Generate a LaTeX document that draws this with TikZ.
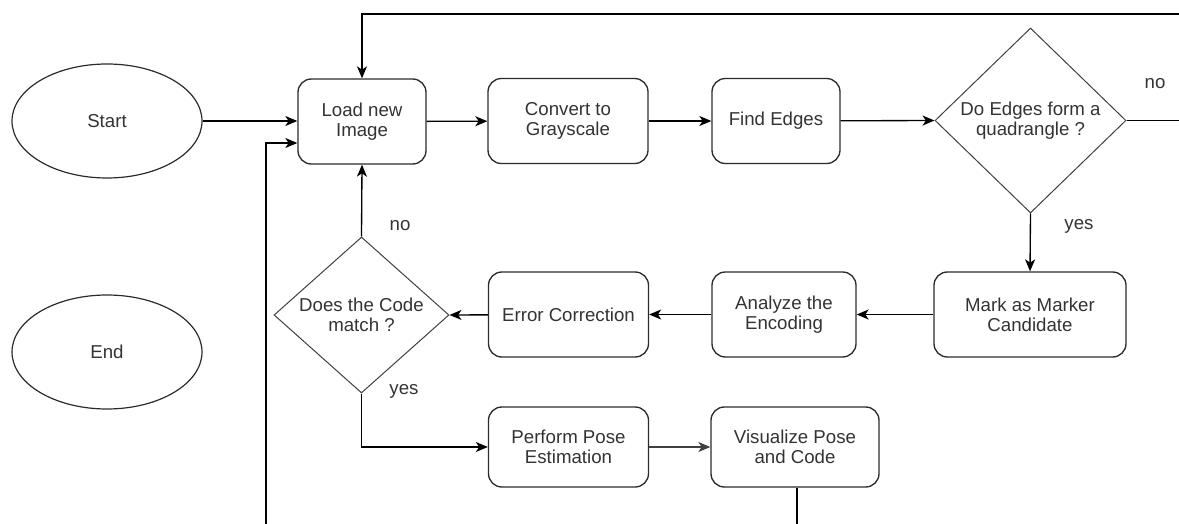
\documentclass[tikz,border=0pt]{standalone}
\usepackage{fontspec}
\setmainfont{Liberation Sans}
\usetikzlibrary{shapes.geometric,arrows.meta}
\definecolor{txt}{HTML}{333333}
\definecolor{edge}{HTML}{2B2B2B}
\tikzset{
  every node/.style={font=\fontsize{14pt}{15pt}\selectfont, text=txt},
  proc/.style={draw=edge, line width=1pt, rounded corners=10pt, align=center,
    minimum height=63.75pt, inner sep=0pt},
  decide/.style={draw=edge!90, line width=0.75pt, diamond, align=center,
    inner sep=0pt},
  term/.style={draw=edge, line width=0.9pt, ellipse, minimum width=142.5pt,
    minimum height=85.5pt},
  flow/.style={draw=black, line width=1pt, -{Stealth[length=9pt,width=7.5pt,inset=2.5pt]}},
  link/.style={draw=black, line width=1pt},
  lbl/.style={inner sep=0pt}
}
\begin{document}
\begin{tikzpicture}[x=0.75pt,y=-0.75pt]
\useasboundingbox (0,0) rectangle (1179,524);

% terminals
\node[term] (start) at (107,121) {Start};
\node[term] (end) at (107,352) {End};

% first row
\node[proc, minimum width=96pt] (load) at (362,121.5) {Load new\\Image};
\node[proc, minimum width=120pt] (gray) at (568,121) {Convert to\\Grayscale};
\node[proc, minimum width=96pt] (edges) at (776,121) {Find Edges};
\node[decide, minimum width=143.25pt, minimum height=138.75pt] (quad) at (1030.5,120.5)
  {Do Edges form a\\quadrangle ?};

% second row
\node[proc, minimum width=144pt] (mark) at (1030,314.5) {Mark as Marker\\Candidate};
\node[proc, minimum width=108pt] (enc) at (784,314.5) {Analyze the\\Encoding};
\node[proc, minimum width=120pt] (err) at (568.5,314.5) {Error Correction};
\node[decide, shape aspect=1.12, minimum width=131.25pt, minimum height=117pt] (match) at (361.5,315)
  {Does the Code\\match ?};

% third row
\node[proc, minimum width=120pt, minimum height=60pt] (pose) at (568.5,447) {Perform Pose\\Estimation};
\node[proc, minimum width=126pt, minimum height=60pt] (vis) at (795,447) {Visualize Pose\\and Code};

% loose ends of the loop lines
\coordinate (noout) at (1179,120.5);
\coordinate (loopin) at (1179,14);
\coordinate (loopturn) at (362,14);
\coordinate (visout) at (797,524);
\coordinate (backin) at (266,524);
\coordinate (backturn) at (266,143);
\coordinate (yesturn) at (361.5,447);

% connectors
\draw[flow] (start.east) -- (start.east -| load.west);
\draw[flow] (load) -- (gray);
\draw[flow] (gray) -- (edges);
\draw[flow] (edges) -- (quad.west);
\draw[link] (quad.east) -- (noout);
\draw[flow] (loopin) -- (loopturn) -- (load.north);
\draw[flow] (quad.south) -- (mark.north);
\draw[flow] (mark) -- (enc);
\draw[flow] (enc) -- (err);
\draw[flow] (err) -- (match.east);
\draw[flow] (match.north) -- (load.south);
\draw[flow] (match.south) -- (yesturn) -- (pose.west);
\draw[flow, draw=black!75] (pose) -- (vis);
\draw[link] (vis.south -| visout) -- (visout);
\draw[flow] (backin) -- (backturn) -- (backturn -| load.west);

% branch labels
\node[lbl] (qno) at (1155,84) {no};
\node[lbl] (qyes) at (1079,226) {yes};
\node[lbl] (mno) at (400,226) {no};
\node[lbl] (myes) at (404,391) {yes};
\end{tikzpicture}
\end{document}
